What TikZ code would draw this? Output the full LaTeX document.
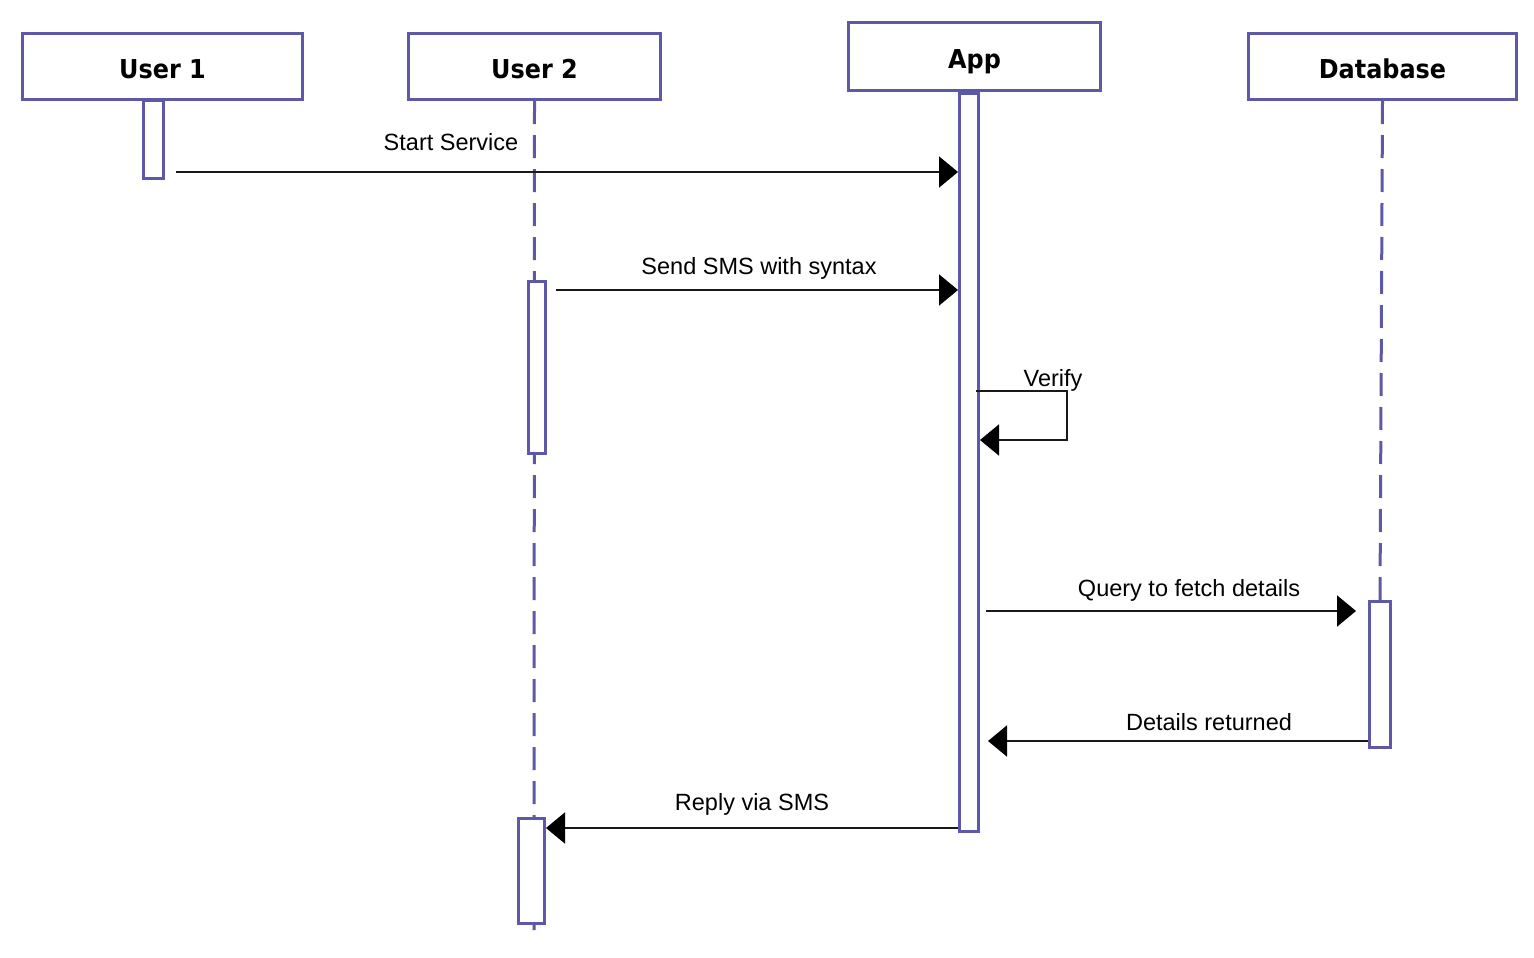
\documentclass[tikz,border=0pt]{standalone}
\usepackage{fontspec}
\setmainfont{Liberation Sans}
\newfontfamily\titlefont[FakeStretch=0.92]{DejaVu Sans}
\usetikzlibrary{arrows.meta}
\definecolor{pc}{RGB}{94,89,166}
\begin{document}
\begin{tikzpicture}[x=1pt,y=-1pt,
 actor/.style={draw=pc,line width=3pt,fill=white,inner sep=0pt,
   font=\titlefont\bfseries\fontsize{26}{30}\selectfont,text height=24.5pt,text depth=0pt},
 actbar/.style={draw=pc,line width=3pt,fill=white,inner sep=0pt},
 life/.style={draw=pc,line width=3pt,dash pattern=on 23pt off 11pt},
 msg/.style={draw=black!90,line width=2pt,-{Triangle[length=19pt,width=31pt,color=black]}},
 lbl/.style={font=\fontsize{23.5}{27}\selectfont,inner sep=0pt,anchor=base}]
\useasboundingbox (0,0) rectangle (1534,958);
% actors
\node[actor,minimum width=280pt,minimum height=66pt] (u1) at (162.5,66.5) {User 1};
\node[actor,minimum width=252pt,minimum height=66pt] (u2) at (534.5,66.5) {User 2};
\node[actor,minimum width=252pt,minimum height=68pt] (app) at (974.5,56.5) {App};
\node[actor,minimum width=268pt,minimum height=66pt] (db) at (1382.5,66.5) {Database};
% lifelines
\coordinate (u2end) at (534,930);
\node[actbar,minimum width=21pt,minimum height=146pt] (dbact) at (1380,674.5) {};
\draw[life] (u2.south) -- (u2end);
\draw[life] (db.south) -- (dbact.north);
% activations
\node[actbar,minimum width=20pt,minimum height=78pt] (u1act) at (153.5,139.5) {};
\node[actbar,minimum width=17pt,minimum height=172pt] (u2a1) at (537,367.5) {};
\node[actbar,minimum width=26pt,minimum height=105pt] (u2a2) at (531.5,871) {};
\node[actbar,minimum width=19pt,minimum height=738pt] (appact) at (969,462.5) {};
\node[actbar,minimum width=21pt,minimum height=146pt] (dbact) at (1380,674.5) {};
% messages
\draw[msg,shorten <=11pt] (u1act.east |- 0,172) -- (appact.west |- 0,172);
\node[lbl] (l1) at (451,150) {Start Service};
\draw[msg,shorten <=9pt] (u2a1.east |- 0,290) -- (appact.west |- 0,290);
\node[lbl] (l2) at (759,274) {Send SMS with syntax};
\coordinate (vc1) at (1067,391);
\coordinate (vc2) at (1067,440);
\draw[msg] (appact.east |- 0,391) ++(-4,0) -- (vc1) -- (vc2) -- (appact.east |- vc2);
\node[lbl] (l3) at (1053,386) {Verify};
\draw[msg,shorten <=6pt,shorten >=12pt] (appact.east |- 0,611) -- (dbact.west |- 0,611);
\node[lbl] (l4) at (1189,596) {Query to fetch details};
\draw[msg,shorten >=8pt] (dbact.west |- 0,741) -- (appact.east |- 0,741);
\node[lbl] (l5) at (1209,730) {Details returned};
\draw[msg] (appact.west |- 0,828) -- (u2a2.east |- 0,828);
\node[lbl] (l6) at (752,810) {Reply via SMS};
\end{tikzpicture}
\end{document}
